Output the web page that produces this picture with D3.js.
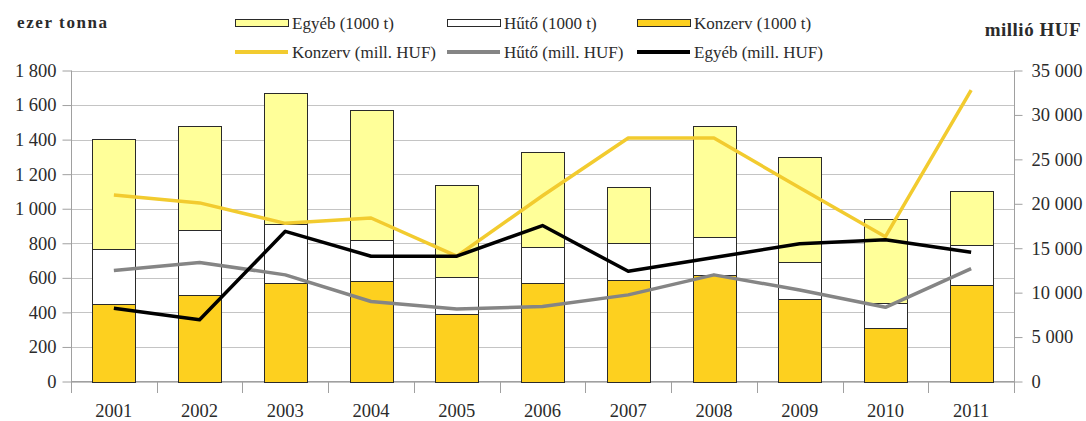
<!doctype html>
<html lang="en">
<head>
  <meta charset="utf-8">
  <title>Konzerv, hűtő, egyéb</title>
  <script src="https://cdn.jsdelivr.net/npm/d3@7/dist/d3.min.js"></script>
<style>
body { margin: 0; background: #fff; }
.grid line { stroke: #c4c4c4; stroke-width: 1; }
.axis path, .axis line { stroke: #a0a0a0; }
</style>
</head>
<body>
<svg class="chart"></svg>
<script>
var years = ["2001","2002","2003","2004","2005","2006","2007","2008","2009","2010","2011"];

// ezer tonna (stacked bars)
var konzervT = [451, 498, 569, 579, 390, 569, 590, 618, 480, 307, 561];
var hutoT    = [313, 376, 342, 241, 214, 209, 211, 221, 209, 147, 230];
var egyebT   = [641, 602, 758, 753, 533, 553, 322, 637, 613, 489, 311];

// millió HUF (lines)
var konzervHUF = [21000, 20100, 17800, 18400, 14100, 20900, 27400, 27400, 21800, 16300, 32800];
var hutoHUF    = [12500, 13400, 12000, 9000, 8150, 8450, 9750, 12000, 10300, 8350, 12700];
var egyebHUF   = [8250, 6950, 16900, 14100, 14100, 17550, 12400, 13950, 15500, 15950, 14550];

var leftTicks = [0, 200, 400, 600, 800, 1000, 1200, 1400, 1600, 1800];
var rightTicks = [0, 5000, 10000, 15000, 20000, 25000, 30000, 35000];

var width = 1086, height = 421;
var serif = '"Liberation Serif", "Times New Roman", Times, serif';
var fmt = d3.formatLocale({decimal: ",", thousands: " ", grouping: [3], currency: ["", ""]}).format(",d");

var svg = d3.select(".chart").attr("width", width).attr("height", height);

var x = d3.scaleBand().domain(years).range([71, 1014]).paddingInner(0.5).paddingOuter(0.25);
var yL = d3.scaleLinear().domain([0, 1800]).range([381.5, 70.5]);
var yR = d3.scaleLinear().domain([0, 35000]).range([381.5, 70.5]);

// gridlines
svg.append("g").attr("class", "grid")
  .selectAll("line").data(leftTicks).enter().append("line")
  .attr("x1", 71).attr("x2", 1014)
  .attr("y1", function(d) { return Math.round(yL(d)) + 0.5; })
  .attr("y2", function(d) { return Math.round(yL(d)) + 0.5; });

// left axis
var gl = svg.append("g").attr("class", "axis").attr("transform", "translate(71.5,0)")
  .call(d3.axisLeft(yL).tickValues(leftTicks).tickFormat(fmt).tickSizeInner(9).tickSizeOuter(0).tickPadding(6));
gl.selectAll("text").style("font-size", "18.5px");
gl.select(".domain").attr("d", "M0," + yL(1800) + "V393");

// right axis
var gr = svg.append("g").attr("class", "axis").attr("transform", "translate(1014.5,0)")
  .call(d3.axisRight(yR).tickValues(rightTicks).tickFormat(fmt).tickSizeInner(8).tickSizeOuter(0).tickPadding(9));
gr.selectAll("text").style("font-size", "18.5px");
gr.select(".domain").attr("d", "M0," + yR(35000) + "V393");

// x axis: baseline, boundary ticks, labels
var gap = (x.step() - x.bandwidth()) / 2;
var bounds = years.map(function(d) { return x(d) - gap; }).concat([x.range()[1]]);
var gx = svg.append("g").attr("class", "axis");
gx.append("path").attr("d", "M71," + (yL(0)) + "H1014").attr("fill", "none");
gx.selectAll(".tk").data(bounds).enter().append("line").attr("class", "tk")
  .attr("x1", function(d) { return Math.round(d) + 0.5; })
  .attr("x2", function(d) { return Math.round(d) + 0.5; })
  .attr("y1", yL(0)).attr("y2", 393);
gx.selectAll(".lbl").data(years).enter().append("text").attr("class", "lbl")
  .attr("x", function(d) { return x(d) + x.bandwidth() / 2; })
  .attr("y", 417)
  .attr("text-anchor", "middle")
  .style("font-size", "18.5px")
  .text(function(d) { return d; });

// stacked bars
var rows = years.map(function(d, i) {
  return {year: d, konzerv: konzervT[i], huto: hutoT[i], egyeb: egyebT[i]};
});
var stack = d3.stack().keys(["konzerv", "huto", "egyeb"])(rows);
var fills = {konzerv: "#fdd01f", huto: "#ffffff", egyeb: "#ffff99"};

svg.append("g").selectAll("g").data(stack).enter().append("g")
  .attr("fill", function(s) { return fills[s.key]; })
  .selectAll("rect").data(function(s) { return s; }).enter().append("rect")
  .attr("x", function(d) { return Math.round(x(d.data.year)) + 0.5; })
  .attr("width", Math.round(x.bandwidth()))
  .attr("y", function(d) { return Math.round(yL(d[1])) + 0.5; })
  .attr("height", function(d) { return Math.round(yL(d[0])) - Math.round(yL(d[1])); })
  .attr("stroke", "#2a2a2a")
  .attr("stroke-width", 1);

// lines
var line = d3.line()
  .x(function(d, i) { return x(years[i]) + x.bandwidth() / 2; })
  .y(function(d) { return yR(d); });

var series = [
  {vals: hutoHUF, color: "#858585"},
  {vals: konzervHUF, color: "#f2cb2f"},
  {vals: egyebHUF, color: "#000000"}
];
svg.append("g").selectAll("path").data(series).enter().append("path")
  .attr("d", function(s) { return line(s.vals); })
  .attr("fill", "none")
  .attr("stroke", function(s) { return s.color; })
  .attr("stroke-width", 3.5)
  .attr("stroke-linejoin", "round");

// titles
svg.append("text").attr("x", 17).attr("y", 28)
  .style("font-size", "17px").style("font-weight", "bold").style("letter-spacing", "1.6px")
  .text("ezer tonna");
svg.append("text").attr("x", 1081).attr("y", 36).attr("text-anchor", "end")
  .style("font-size", "19px").style("font-weight", "bold").style("letter-spacing", "0.5px")
  .text("millió HUF");

// legend
var legBoxes = [
  {label: "Egyéb (1000 t)", fill: "#ffff99", x: 235},
  {label: "Hűtő (1000 t)", fill: "#ffffff", x: 447},
  {label: "Konzerv (1000 t)", fill: "#fdd01f", x: 637}
];
var legLines = [
  {label: "Konzerv (mill. HUF)", color: "#f2cb2f", x: 235},
  {label: "Hűtő (mill. HUF)", color: "#858585", x: 447},
  {label: "Egyéb (mill. HUF)", color: "#000000", x: 637}
];
var lb = svg.append("g").selectAll("g").data(legBoxes).enter().append("g");
lb.append("rect").attr("x", function(d) { return d.x + 0.5; }).attr("y", 19.5)
  .attr("width", 53).attr("height", 7)
  .attr("fill", function(d) { return d.fill; }).attr("stroke", "#2a2a2a");
lb.append("text").attr("x", function(d) { return d.x + 57; }).attr("y", 29)
  .style("font-size", "17px").text(function(d) { return d.label; });

var ll = svg.append("g").selectAll("g").data(legLines).enter().append("g");
ll.append("line").attr("x1", function(d) { return d.x; }).attr("x2", function(d) { return d.x + 53; })
  .attr("y1", 52).attr("y2", 52)
  .attr("stroke", function(d) { return d.color; }).attr("stroke-width", 4);
ll.append("text").attr("x", function(d) { return d.x + 57; }).attr("y", 58)
  .style("font-size", "17px").text(function(d) { return d.label; });

// all texts in a Times-like face
svg.selectAll("text").style("font-family", serif).style("fill", "#2b2b2b");
</script>
</body>
</html>
